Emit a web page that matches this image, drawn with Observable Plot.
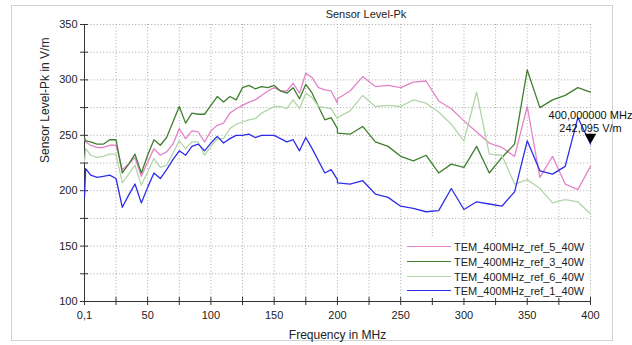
<!DOCTYPE html>
<html>
<head>
<meta charset="utf-8">
<script src="https://cdn.jsdelivr.net/npm/d3@7"></script>
<script src="https://cdn.jsdelivr.net/npm/@observablehq/plot@0.6"></script>
<style>
  html, body { margin: 0; padding: 0; background: #fff; }
  #wrap { position: relative; width: 632px; height: 345px; overflow: hidden; font-family: "Liberation Sans", Arial, sans-serif; }
  #frame { position: absolute; left: 11px; top: 5px; width: 602px; height: 336px; border: 1.5px solid #d2d2d2; box-sizing: border-box; }
  #title { position: absolute; top: 8px; left: 366px; transform: translateX(-50%); font-size: 11px; color: #222; white-space: nowrap; }
  #chart { position: absolute; left: 0; top: 0; }
  #legend { position: absolute; left: 403px; top: 238px; width: 186px; height: 60px; background: #fff; }
  .row { position: absolute; left: 4px; height: 15px; display: flex; align-items: center; font-size: 11px; color: #222; white-space: nowrap; }
  .sw { width: 44px; height: 1px; margin-right: 3px; }
</style>
</head>
<body>
<div id="wrap">
  <div id="frame"></div>
  <div id="chart"></div>
  <div id="title">Sensor Level-Pk</div>
  <div id="legend"></div>
</div>
<script>
const title = "Sensor Level-Pk";
const xLabel = "Frequency in MHz";
const yLabel = "Sensor Level-Pk in V/m";

const seriesNames = ["TEM_400MHz_ref_5_40W", "TEM_400MHz_ref_3_40W", "TEM_400MHz_ref_6_40W", "TEM_400MHz_ref_1_40W"];
const seriesColors = ["#e384c9", "#3f7f2f", "#b2d5aa", "#2e2eea"];

const freqs = [0.1, 1, 5, 10, 15, 20, 25, 30, 35, 40, 45, 50, 55, 60, 65, 70, 75, 80, 85, 90, 95, 100,
  105, 110, 115, 120, 125, 130, 135, 140, 145, 150, 155, 160, 165, 170, 175, 180, 185, 190, 195, 200,
  200, 210, 220, 230, 240, 250, 260, 270, 280, 290, 300, 310, 320, 330, 340, 350, 360, 370, 380, 390, 400];

const ref5 = [247, 244, 241, 239, 239, 241, 241, 219, 224, 230, 213, 226, 238, 232, 235, 242, 256, 247, 254, 253, 244, 254,
  259, 261, 270, 274, 277, 280, 282, 286, 290, 293, 290, 290, 297, 288, 306, 302, 293, 291, 290, 279,
  283, 290, 303, 294, 295, 293, 298, 299, 281, 274, 263, 253, 243, 239, 231, 276, 212, 231, 206, 201, 222];

const ref3 = [248, 245, 244, 242, 242, 246, 246, 216, 224, 233, 216, 232, 246, 241, 248, 262, 276, 261, 270, 269, 269, 277,
  285, 280, 285, 282, 293, 295, 292, 294, 293, 295, 290, 288, 293, 283, 296, 288, 276, 264, 266, 256,
  252, 251, 258, 244, 240, 231, 227, 232, 216, 224, 221, 240, 216, 230, 242, 309, 275, 282, 286, 293, 289];

const ref6 = [226, 238, 232, 230, 231, 233, 233, 207, 215, 223, 205, 217, 229, 221, 223, 234, 245, 238, 244, 244, 232, 240,
  247, 247, 256, 260, 262, 264, 265, 270, 273, 276, 276, 274, 282, 274, 288, 284, 276, 275, 274, 265,
  266, 272, 286, 276, 277, 276, 282, 279, 271, 260, 245, 289, 233, 232, 206, 210, 202, 189, 192, 190, 179];

const ref1 = [194, 220, 214, 212, 213, 214, 211, 185, 196, 206, 189, 203, 216, 211, 219, 228, 236, 232, 240, 242, 236, 243,
  249, 243, 247, 250, 250, 251, 248, 250, 250, 250, 247, 244, 246, 236, 248, 238, 227, 216, 219, 210,
  207, 206, 209, 197, 194, 186, 184, 181, 182, 202, 183, 190, 188, 186, 199, 245, 218, 215, 222, 266, 242.095];

const xTicks = [0.1, 25, 50, 75, 100, 125, 150, 175, 200, 225, 250, 275, 300, 325, 350, 375, 400];
const xTickLabels = [0.1, 50, 100, 150, 200, 250, 300, 350, 400];
const xGrid = [25, 50, 75, 100, 125, 150, 175, 200, 225, 250, 275, 300, 325, 350, 375, 400];
const yTicks = [100, 125, 150, 175, 200, 225, 250, 275, 300, 325, 350];
const yTickLabels = [100, 150, 200, 250, 300, 350];
const yGrid = [125, 150, 175, 200, 225, 250, 275, 300, 325, 350];

const markerFreq = 400;
const markerValue = 242.095;
const markerLines = ["400,000000 MHz", "242,095 V/m"];

const allValues = [ref5, ref3, ref6, ref1];
const rows = [];
allValues.forEach((vals, s) => {
  vals.forEach((v, i) => rows.push({f: freqs[i], v, s: seriesNames[s]}));
});
const marker = [{f: markerFreq, v: markerValue}];

const gridStyle = {stroke: "#a8a8a8", strokeOpacity: 1, strokeDasharray: "1,2.2", strokeWidth: 1};

const chart = Plot.plot({
  width: 632,
  height: 345,
  marginLeft: 84,
  marginRight: 42,
  marginTop: 24,
  marginBottom: 44,
  style: {fontFamily: "'Liberation Sans', Arial, sans-serif", fontSize: "11px", color: "#222", background: "transparent", overflow: "visible"},
  x: {domain: [0.1, 400]},
  y: {domain: [100, 350]},
  color: {domain: seriesNames, range: seriesColors},
  marks: [
    Plot.gridX(xGrid, gridStyle),
    Plot.gridY(yGrid, gridStyle),
    Plot.ruleY([100], {stroke: "#333"}),
    Plot.ruleX([0.1], {stroke: "#333"}),
    Plot.axisX({ticks: xTicks, tickSize: 8, dy: -4, tickFormat: () => "", label: null, stroke: "#333"}),
    Plot.axisX({ticks: xTickLabels, tickSize: 0, tickPadding: 10, tickFormat: d => d === 0.1 ? "0,1" : String(d), label: null}),
    Plot.axisY({ticks: yTicks, tickSize: 8, dx: 4, tickFormat: () => "", label: null, stroke: "#333"}),
    Plot.axisY({ticks: yTickLabels, tickSize: 0, tickPadding: 7, label: null}),
    Plot.text([xLabel], {frameAnchor: "bottom", dy: 37, fontSize: 12, fill: "#222"}),
    Plot.text([yLabel], {frameAnchor: "left", dx: -39, rotate: -90, fontSize: 12, fill: "#222"}),
    Plot.line(rows, {x: "f", y: "v", z: "s", stroke: "s", strokeWidth: 1.3}),
    Plot.dot(marker, {x: "f", y: "v", symbol: "triangle", r: 4.3, fill: "#000", rotate: 180, dy: -7}),
    Plot.text(marker, {x: "f", y: "v", text: () => markerLines[0], dy: -28.5, fill: "#111", fontSize: 11}),
    Plot.text(marker, {x: "f", y: "v", text: () => markerLines[1], dy: -15.5, fill: "#111", fontSize: 11})
  ]
});
document.getElementById("chart").appendChild(chart);

const legend = document.getElementById("legend");
const rowTops = [1, 16, 31, 45];
seriesNames.forEach((name, i) => {
  const row = document.createElement("div");
  row.className = "row";
  row.style.top = rowTops[i] + "px";
  const sw = document.createElement("span");
  sw.className = "sw";
  sw.style.background = seriesColors[i];
  const t = document.createElement("span");
  t.textContent = name;
  row.appendChild(sw);
  row.appendChild(t);
  legend.appendChild(row);
});
</script>
</body>
</html>
